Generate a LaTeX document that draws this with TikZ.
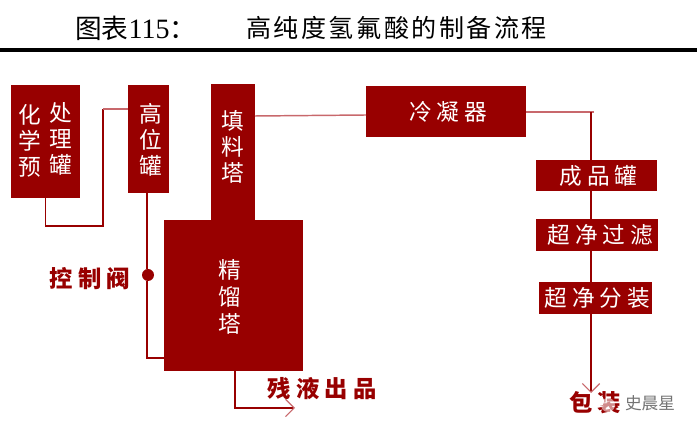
\documentclass[tikz,border=0pt]{standalone}
\usepackage{fontspec}
\usetikzlibrary{arrows.meta}
\setmainfont{Liberation Serif}
\newfontfamily\cjk{Noto Sans CJK SC}
\newfontfamily\cjkt[LetterSpace=10]{Noto Sans CJK SC}
\newfontfamily\cjkw[LetterSpace=22]{Noto Sans CJK SC}
\definecolor{boxred}{HTML}{980000}
\definecolor{softred}{HTML}{C8686C}
\tikzset{
  x=0.75pt,y=-0.75pt,
  wh/.style 2 args={minimum width=#1*0.75pt,minimum height=#2*0.75pt},
  boxnode/.style={fill=boxred,draw=none,inner sep=0pt,text=white,align=center,font=\cjk\fontsize{17}{19.5}\selectfont},
  boxrow/.style={boxnode,font=\cjkw\fontsize{17}{19}\selectfont},
  boxtext/.style={text=white,align=center,inner sep=0pt,font=\cjk\fontsize{17}{19.5}\selectfont},
  redlabel/.style={text=boxred,inner sep=0pt,font=\cjkw\bfseries\fontsize{17.5}{20}\selectfont},
  conn/.style={draw=boxred,line width=1pt},
  softconn/.style={draw=softred,line width=1.1pt},
  tipped/.style={-{Straight Barb[length=6.5pt,width=13pt,line width=0.9pt,color=softred]}},
}
\begin{document}
\begin{tikzpicture}
\useasboundingbox (0,0) rectangle (697,434);
% title
\node[inner sep=0pt,anchor=west,font=\cjk\fontsize{20}{20}\selectfont] (tleft) at (75,28) {图表{\rmfamily\fontsize{21}{20}\selectfont 115}：};
\node[inner sep=0pt,anchor=west,font=\cjkt\fontsize{18.8}{20}\selectfont] (ttitle) at (246,28) {高纯度氢氟酸的制备流程};
\fill[black] (0,48) rectangle (697,52);
% boxes
\node[boxnode,wh={69}{113}] (pre) at (45.5,141.5) {};
\node[boxtext] (prel) at (30,141) {化\\学\\预};
\node[boxtext] (prer) at (61,139) {处\\理\\罐};
\node[boxnode,wh={41}{108}] (high) at (148.5,139) {};
\node[boxtext] (highl) at (151,140) {高\\位\\罐};
\node[boxnode,wh={44}{137}] (pack) at (233,152.5) {};
\node[boxtext] (packl) at (233,147) {填\\料\\塔};
\node[boxnode,wh={139}{151}] (dist) at (233.5,295.5) {};
\node[boxtext,font=\cjk\fontsize{17}{20.5}\selectfont] (distl) at (230,297) {精\\馏\\塔};
\node[boxrow,wh={160}{51}] (cond) at (446,111.5) {\hspace{3pt}冷凝器};
\node[boxrow,wh={121}{31}] (prod) at (596.5,175.5) {\hspace{3pt}成品罐};
\node[boxrow,wh={122}{32}] (filt) at (597,235) {\hspace{5pt}超净过滤};
\node[boxrow,wh={113}{32}] (fill) at (595.5,298) {\hspace{3pt}超净分装};
% labels
\node[circle,fill=boxred,inner sep=0pt,minimum size=9pt] (valve) at (148,275) {};
\node[redlabel] (vlabel) at (90,279) {控制阀};
\node[redlabel] (waste) at (322,389) {残液出品};
\node[redlabel] (bag) at (595,403) {包装};
\node[circle,fill=white,inner sep=0pt,minimum size=8pt] (logo) at (599,401) {};
\fill[white,opacity=.55] (608,405) circle (7);
\node[text=black!55,inner sep=0pt,font=\cjk\fontsize{12.5}{14}\selectfont] (mark) at (650,403) {史晨星};
% free ends
\coordinate (a1) at (45.5,226);
\coordinate (a2) at (103,226);
\coordinate (a3) at (103,109);
\coordinate (highin) at (128,109);
\coordinate (highout) at (147,193);
\coordinate (distin) at (164,358);
\coordinate (distout) at (235,371);
\coordinate (wasteend) at (295,408);
\coordinate (packout) at (255,116);
\coordinate (condin) at (366,115);
\coordinate (condout) at (526,112);
\coordinate (corner) at (594,112);
\coordinate (down) at (591,112);
\coordinate (prodin) at (591,160);
\coordinate (prodout) at (591,191);
\coordinate (filtin) at (591,219);
\coordinate (filtout) at (591,251);
\coordinate (fillin) at (591,282);
\coordinate (fillout) at (591,314);
\coordinate (bagtop) at (591,393);
% connectors
\draw[conn] (pre.south -| a1) -- (a1) -- (a2) -- (a3);
\draw[softconn] (a3) -- (highin);
\draw[conn] (highout) -- (valve.north -| highout);
\draw[conn] (valve.south -| highout) -- (highout |- distin) -- (distin);
\draw[softconn] (packout) -- (condin);
\draw[softconn] (condout) -- (corner);
\draw[conn] (down) -- (prodin);
\draw[conn] (prodout) -- (filtin);
\draw[conn] (filtout) -- (fillin);
\draw[conn,tipped] (fillout) -- (bagtop);
\draw[conn,tipped] (distout) |- (wasteend);
\end{tikzpicture}
\end{document}
